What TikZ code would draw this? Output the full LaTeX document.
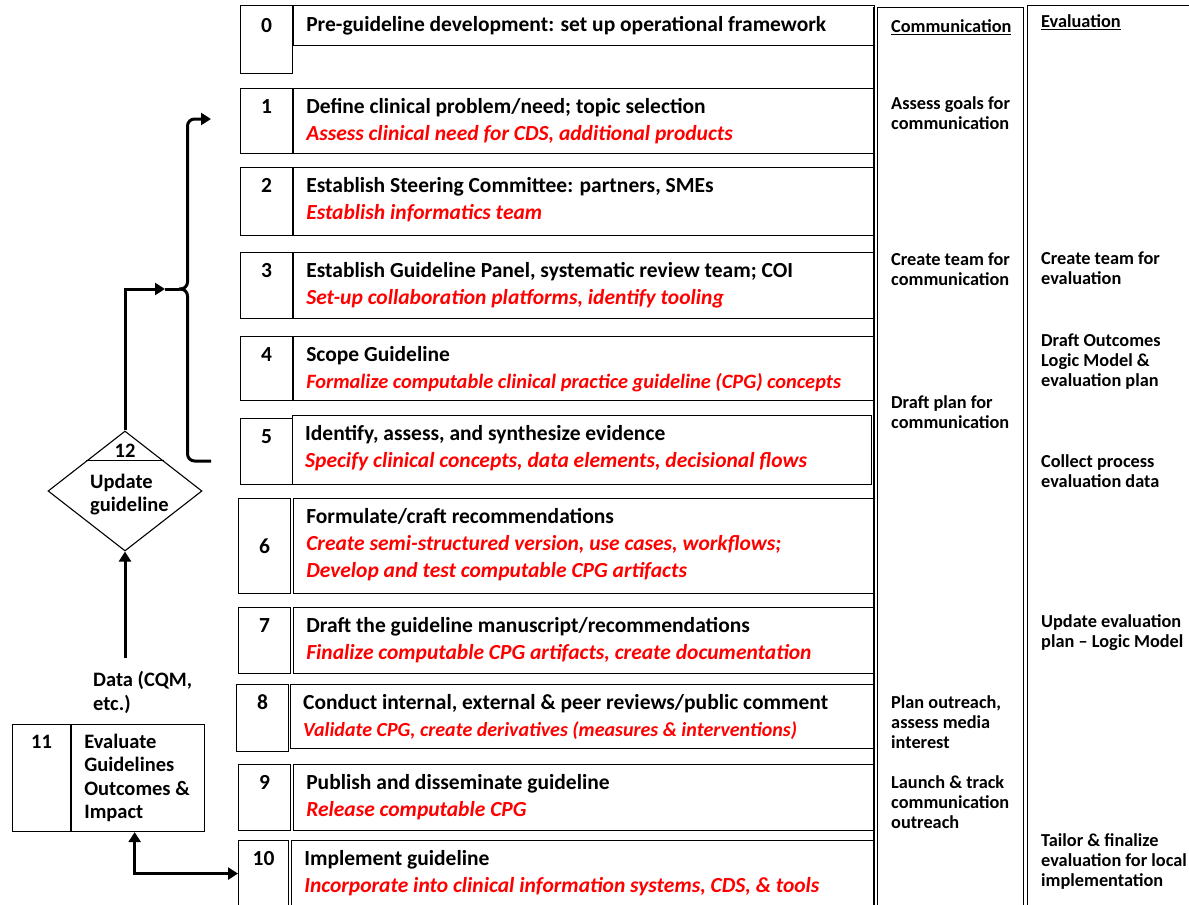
\documentclass[tikz,border=0pt]{standalone}
\usepackage{fontspec}
\setmainfont{Carlito}
\usetikzlibrary{
    positioning,
    arrows.meta,
    calc,
    shapes.geometric
}
\newcommand{\cpgtask}[1]{\textcolor{red}{\itshape #1}}

\begin{document}
\begin{tikzpicture}[
    x=1pt,
    y=-1pt,
    numcell/.style={
        draw,
        line width=1.1pt,
        anchor=north west,
        inner sep=0pt,
        minimum width=52pt,
    },
    taskcell/.style={
        draw,
        line width=1.1pt,
        anchor=north west,
        inner sep=0pt,
        minimum width=581pt,
    },
    numtext/.style={
        anchor=base,
        inner sep=0pt,
        font=\bfseries\fontsize{21.5}{27}\selectfont,
    },
    tasktext/.style={
        anchor=north west,
        yshift=15pt,
        align=left,
        inner sep=0pt,
        font=\bfseries\fontsize{21.5}{27}\selectfont,
        execute at begin node={\rule{0pt}{18pt}},
    },
    sidenote/.style={
        anchor=north west,
        yshift=11.5pt,
        align=left,
        inner sep=0pt,
        font=\bfseries\fontsize{18.3}{20}\selectfont,
        execute at begin node={\rule{0pt}{15.5pt}},
    },
    leftnote/.style={
        anchor=north west,
        yshift=14.5pt,
        align=left,
        inner sep=0pt,
        font=\bfseries\fontsize{20.5}{23.5}\selectfont,
        execute at begin node={\rule{0pt}{17.5pt}},
    },
    colframe/.style={
        draw,
        line width=1.1pt,
        anchor=north west,
        inner sep=0pt,
    },
    flowline/.style={line width=3pt},
    flow/.style={flowline, -{Triangle[length=10pt,width=12pt]}},
]
    \useasboundingbox (0,0) rectangle (1189,905);
    \clip (0,0) rectangle (1189,905);

    % side columns
    \node[colframe, minimum width=146pt, minimum height=930pt] (commcol) at (877,7) {};
    \draw[line width=1.1pt] ([xshift=-3pt]commcol.north west) -- ([xshift=-3pt]commcol.south west);
    \node[colframe, minimum width=200pt, minimum height=930pt] (evalcol) at (1027,5) {};
    \node[sidenote] (commhead) at (891,28) {\underline{Communication}};
    \node[sidenote] (evalhead) at (1041,23) {\underline{Evaluation}};

    % steps 0-10
    \node[numcell, minimum height=68pt] (n0) at (240,5) {};
    \node[taskcell, minimum height=40pt] (c0) at (n0.north east) {};
    \node[numcell, minimum height=65pt] (n1) at (240,88) {};
    \node[taskcell, minimum height=65pt, right=0pt of n1] (c1) {};
    \node[numcell, minimum height=68pt] (n2) at (240,167) {};
    \node[taskcell, minimum height=68pt, right=0pt of n2] (c2) {};
    \node[numcell, minimum height=66pt] (n3) at (240,252) {};
    \node[taskcell, minimum height=66pt, right=0pt of n3] (c3) {};
    \node[numcell, minimum height=64pt] (n4) at (240,336) {};
    \node[taskcell, minimum height=64pt, right=0pt of n4] (c4) {};
    \node[numcell, minimum height=66pt] (n5) at (240,418) {};
    \node[taskcell, minimum width=579pt, minimum height=69pt] (c5) at (292,415) {};
    \node[numcell, minimum height=95pt] (n6) at (238,498) {};
    \node[taskcell, minimum height=95pt, right=2pt of n6] (c6) {};
    \node[numcell, minimum height=66pt] (n7) at (238,607) {};
    \node[taskcell, minimum height=66pt, right=2pt of n7] (c7) {};
    \node[numcell, minimum height=67pt] (n8) at (236,684) {};
    \node[taskcell, minimum width=583pt, minimum height=64pt] (c8) at (290,684) {};
    \node[numcell, minimum height=66pt] (n9) at (238,764) {};
    \node[taskcell, minimum height=66pt, right=2pt of n9] (c9) {};
    \node[numcell, minimum width=50pt, minimum height=66pt] (n10) at (238,840) {};
    \node[taskcell, minimum width=583pt, minimum height=66pt, right=2pt of n10] (c10) {};

    \node[numtext] (k0) at ($(n0.north)+(0,27)$) {0};
    \node[numtext] (k1) at ($(n1.north)+(0,25.5)$) {1};
    \node[numtext] (k2) at ($(n2.north)+(0,25.5)$) {2};
    \node[numtext] (k3) at ($(n3.north)+(0,25.5)$) {3};
    \node[numtext] (k4) at ($(n4.north)+(0,25.5)$) {4};
    \node[numtext] (k5) at ($(n5.north)+(0,25.5)$) {5};
    \node[numtext, anchor=center] (k6) at (n6.center) {6};
    \node[numtext] (k7) at ($(n7.north)+(0,25.5)$) {7};
    \node[numtext] (k8) at ($(n8.north)+(0,25.5)$) {8};
    \node[numtext] (k9) at ($(n9.north)+(0,25.5)$) {9};
    \node[numtext] (k10) at ($(n10.north)+(0,25.5)$) {10};

    \node[tasktext] (t0) at ($(c0.north west)+(13,23.5)$) {Pre-guideline development: set up operational framework};
    \node[tasktext] (t1) at ($(c1.north west)+(13,25.5)$) {Define clinical problem/need; topic selection\\
        \cpgtask{Assess clinical need for CDS, additional products}};
    \node[tasktext] (t2) at ($(c2.north west)+(13,25.5)$) {Establish Steering Committee: partners, SMEs\\
        \cpgtask{Establish informatics team}};
    \node[tasktext] (t3) at ($(c3.north west)+(13,25.5)$) {Establish Guideline Panel, systematic review team; COI\\
        \cpgtask{Set-up collaboration platforms, identify tooling}};
    \node[tasktext] (t4) at ($(c4.north west)+(13,25.5)$) {Scope Guideline\\
        \fontsize{20.4}{27}\selectfont\cpgtask{Formalize computable clinical practice guideline (CPG) concepts}};
    \node[tasktext] (t5) at ($(c5.north west)+(13,25.5)$) {Identify, assess, and synthesize evidence\\
        \cpgtask{Specify clinical concepts, data elements, decisional flows}};
    \node[tasktext] (t6) at ($(c6.north west)+(13,25.5)$) {Formulate/craft recommendations\\
        \cpgtask{Create semi-structured version, use cases, workflows;}\\
        \cpgtask{Develop and test computable CPG artifacts}};
    \node[tasktext] (t7) at ($(c7.north west)+(13,25.5)$) {Draft the guideline manuscript/recommendations\\
        \cpgtask{Finalize computable CPG artifacts, create documentation}};
    \node[tasktext] (t8) at ($(c8.north west)+(13,25.5)$) {Conduct internal, external \& peer reviews/public comment\\
        \fontsize{20}{26}\selectfont\cpgtask{Validate CPG, create derivatives (measures \& interventions)}};
    \node[tasktext] (t9) at ($(c9.north west)+(13,25.5)$) {Publish and disseminate guideline\\
        \cpgtask{Release computable CPG}};
    \node[tasktext] (t10) at ($(c10.north west)+(13,25.5)$) {Implement guideline\\
        \cpgtask{Incorporate into clinical information systems, CDS, \& tools}};

    % communication and evaluation notes
    \node[sidenote] (cm1) at (891,108) {Assess goals for\\communication};
    \node[sidenote] (cm3) at (891,264) {Create team for\\communication};
    \node[sidenote] (cm5) at (891,407) {Draft plan for\\communication};
    \node[sidenote] (cm8) at (891,707) {Plan outreach,\\assess media\\interest};
    \node[sidenote] (cm9) at (891,787) {Launch \& track\\communication\\outreach};
    \node[sidenote] (ev3) at (1041,263) {Create team for\\evaluation};
    \node[sidenote] (ev4) at (1041,345) {Draft Outcomes\\Logic Model \&\\evaluation plan};
    \node[sidenote] (ev5) at (1041,466) {Collect process\\evaluation data};
    \node[sidenote] (ev7) at (1041,626) {Update evaluation\\plan -- Logic Model};
    \node[sidenote] (ev10) at (1041,845) {Tailor \& finalize\\evaluation for local\\implementation};

    % update loop
    \node[diamond, draw, line width=1.1pt, minimum width=154pt, minimum height=120pt, inner sep=0pt] (upd) at (125,491) {};
    \draw[line width=1.1pt] (upd.north west) -- (upd.north east);
    \node[numtext, font=\bfseries\fontsize{20.5}{24}\selectfont] (k12) at (125,457) {12};
    \node[leftnote] (updtext) at (90,488) {Update\\guideline};

    \node[numcell, minimum width=58pt, minimum height=107pt] (n11) at (12,724) {};
    \node[taskcell, minimum width=133pt, minimum height=107pt, right=0pt of n11] (c11) {};
    \node[numtext, font=\bfseries\fontsize{20.5}{24}\selectfont] (k11) at ($(n11.north)+(0,24)$) {11};
    \node[leftnote] (t11) at ($(c11.north west)+(13,24)$) {Evaluate\\Guidelines\\Outcomes \&\\Impact};
    \node[leftnote] (datalbl) at (93,686) {Data (CQM,\\etc.)};

    \coordinate (datafeed) at (125,658);
    \coordinate (loopin) at (165,289);
    \coordinate (cusp) at (179,289);
    \coordinate (spine) at (187.5,289);
    \coordinate (bracetop) at (211,119);
    \coordinate (bracebot) at (211,461);

    \draw[flow] (datafeed) -- (upd.south);
    \draw[flow] (upd.north) |- (loopin);
    \draw[flowline] (loopin) -- (cusp);
    \draw[flow, rounded corners=7pt] (cusp) -- (spine) -- (spine |- bracetop) -- (bracetop);
    \draw[flowline, rounded corners=7pt] (cusp) -- (spine) -- (spine |- bracebot) -- (bracebot);
    \draw[flow, {Triangle[length=10pt,width=12pt]}-{Triangle[length=10pt,width=12pt]}] ([xshift=-3.5pt]c11.south) |- (n10.west);

\end{tikzpicture}
\end{document}
